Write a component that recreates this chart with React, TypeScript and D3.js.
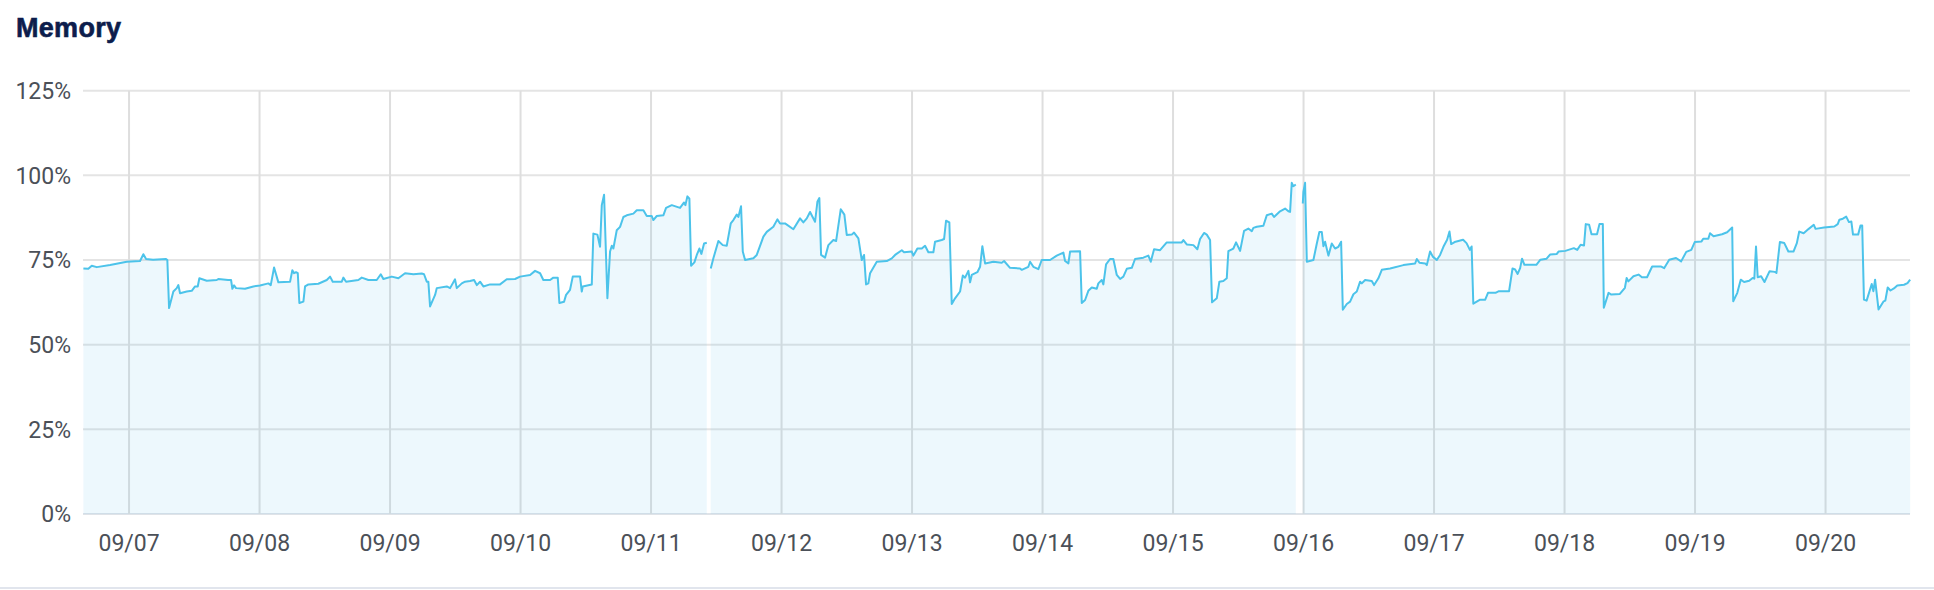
import { useEffect, useRef } from "react";
import * as d3 from "d3";

// hours since 09/07 00:00, memory usage in percent (null = no data)
const hours: number[] = [
  -8.4, -7.49, -6.86, -5.94, -3.49, -0.42, 2.02, 2.63, 3.13, 4.41, 6.8, 7.04, 7.36, 8.15, 8.77, 9.07, 9.38, 10.61,
  11.53, 12.14, 12.63, 12.93, 14.29, 16.13, 16.42, 18.21, 18.76, 19.0, 19.31, 19.68, 21.33, 22.86, 24.09, 25.62,
  26.06, 26.67, 27.46, 29.61, 30.03, 30.35, 30.71, 31.03, 31.32, 32.06, 32.37, 32.98, 34.81, 36.36, 36.97, 37.46,
  39.12, 39.41, 39.91, 42.17, 42.8, 44.01, 45.55, 46.29, 46.77, 48.31, 49.53, 50.76, 52.29, 53.83, 54.25, 54.75,
  55.04, 55.36, 56.28, 56.59, 58.43, 59.04, 59.95, 60.27, 61.19, 61.79, 62.71, 63.45, 63.95, 64.55, 65.16, 66.39,
  68.23, 69.46, 70.99, 71.91, 73.75, 74.67, 75.59, 76.19, 77.43, 78.03, 78.84, 79.14,
  80.0, 80.37, 81.1, 81.6, 82.94, 83.26, 83.44, 85.1, 85.39, 86.13, 86.62, 86.94, 87.36, 87.97, 88.46, 88.78,
  89.07, 89.69, 90.3, 90.91, 91.53, 92.75, 93.37, 94.59, 95.21, 96.13, 96.42, 97.05, 98.26, 98.76, 99.81, 101.33,
  102.07, 102.31, 102.68, 103.05, 103.36, 103.97, 104.41, 104.89, 105.25, 105.75, 106.25, 106.6,
  106.98, 107.46, 108.38, 109.19, 109.92, 110.66, 111.14, 111.76, 112.06, 112.55, 112.87, 113.29, 114.82, 115.44,
  116.66, 117.28, 118.49, 119.23, 119.72, 120.64, 122.17, 123.4, 124.01, 124.64, 125.24, 126.16, 126.59, 126.95,
  127.27, 128.0, 128.61, 129.53, 130.03, 130.89, 131.55, 131.99, 132.91, 133.33, 134.13, 134.75, 135.17, 135.54,
  135.96, 136.28, 137.51, 139.35, 140.27, 140.88, 142.11, 142.53, 143.95, 144.24, 144.98, 145.79, 146.39, 147.0,
  147.92, 148.23, 149.46, 149.89, 150.25, 150.86, 151.3,
  151.91, 152.83, 153.33, 153.75, 154.36, 154.67, 154.98, 156.01, 156.51, 156.93, 157.43, 158.95, 160.5, 160.92,
  162.02, 163.86, 164.18, 165.39, 165.7, 166.31, 167.23, 167.85, 169.38, 170.61, 171.83, 172.14, 172.75, 173.06,
  174.9, 175.21, 175.82, 176.42, 177.05, 177.97, 178.26, 178.89, 179.18, 179.68, 180.42, 181.02, 181.65, 182.26,
  182.86, 183.49, 184.41, 185.01, 186.54, 187.46, 187.9, 188.51, 189.61, 190.84, 191.76, 193.6, 193.9, 194.52,
  195.74, 196.47, 196.97, 197.7, 198.2, 198.81, 199.17, 200.04, 200.52, 201.25, 201.88, 202.17, 203.09, 203.59,
  204.33, 205.06, 205.85, 206.48, 206.77, 207.4, 208.61, 209.23, 210.15, 210.57, 211.68, 212.6, 213.21, 213.52,
  213.83, 214.13, 214.57, 215.2,
  215.86, 215.97, 216.28, 216.6, 217.81, 218.44, 218.91, 219.35, 219.65, 219.96, 220.57, 221.19, 221.8, 222.41,
  222.91, 223.22, 223.95, 224.56, 225.17, 225.79, 226.4, 226.71, 227.32, 228.55, 228.97, 229.76, 230.39, 231.92,
  234.36, 236.52, 236.83, 237.31, 238.36, 238.67, 239.27, 239.77, 240.5, 241.11, 241.72, 242.4, 242.84,
  243.15, 243.78, 245.34, 245.97, 246.59, 246.91, 247.22, 248.47, 249.41, 249.92, 251.3, 251.93, 253.8, 254.43,
  254.91, 255.37, 255.83, 256.18, 256.62, 258.81, 259.56, 260.7, 261.33, 262.58, 262.89, 264.14, 265.71, 266.33,
  266.96, 267.58, 267.9, 268.52, 268.96, 269.97, 270.42, 271.04, 271.22, 272.09, 272.6, 274.17, 275.1, 275.42,
  275.73, 276.67, 277.61, 278.23, 279.17, 280.11, 281.69, 282.31, 283.25, 284.5, 285.44, 286.38, 287.31, 287.94,
  289.19, 289.5, 290.44, 290.75, 291.4, 292.96, 293.9, 294.83, 295.02, 295.77, 296.4, 297.02, 297.96, 298.59,
  298.9, 299.21, 299.52, 300.15, 300.77, 301.71, 302.66, 302.97, 303.6, 304.41, 305.16, 306.1, 306.72, 307.16,
  307.97, 308.91, 309.84, 310.16, 311.72, 313.61, 314.24, 314.55, 315.18, 315.8, 316.3, 316.74, 317.05, 317.99,
  318.43, 318.74, 319.06, 319.55, 320.49, 320.8, 321.11, 321.74, 322.68, 322.99, 323.43, 323.94, 324.57, 325.19,
  326.44, 327.07, 327.56,
];

const memory: (number | null)[] = [
  72.5, 72.4, 73.3, 72.9, 73.5, 74.5, 74.7, 76.7, 75.3, 75.1, 75.3, 75.0, 60.8, 65.7, 66.7, 67.6, 65.2, 65.7,
  65.9, 67.2, 67.2, 69.6, 68.9, 69.1, 69.4, 69.1, 69.1, 66.5, 67.5, 66.7, 66.5, 67.2, 67.5, 68.1,
  67.6, 72.8, 68.4, 68.6, 72.0, 71.1, 71.4, 71.1, 62.3, 62.7, 67.2, 67.8, 68.0, 69.1, 70.1, 68.6,
  68.6, 69.8, 68.6, 69.1, 69.8, 69.1, 69.1, 70.8, 69.4, 70.1, 69.6, 71.1, 70.8, 71.0, 70.8, 68.6,
  68.6, 61.3, 64.7, 66.7, 67.2, 66.7, 69.3, 66.7, 68.1, 68.6, 68.8, 69.1, 67.6, 68.6, 67.2, 67.8,
  67.8, 69.3, 69.4, 70.1, 70.6, 71.8, 71.1, 69.1, 69.1, 69.8, 69.8, 62.3,
  62.7, 64.7, 66.2, 70.1, 70.1, 65.7, 67.2, 67.8, 82.8, 82.5, 78.9, 91.2, 94.3, 63.7, 77.5, 79.2,
  78.4, 83.8, 84.8, 87.7, 88.2, 88.7, 89.7, 89.7, 88.0, 88.0, 86.8, 88.0, 88.2, 90.4, 91.2, 90.4,
  92.0, 91.2, 93.8, 93.1, 73.3, 74.3, 76.5, 78.4, 76.8, 79.9, 80.1, null,
  72.5, 75.5, 80.6, 79.4, 79.2, 85.8, 86.8, 88.4, 87.7, 90.9, 77.5, 75.0, 75.5, 76.5,
  81.9, 83.3, 84.8, 87.0, 85.8, 85.8, 84.1, 87.3, 86.1, 87.3, 89.2, 86.3, 92.2, 93.3,
  76.5, 75.7, 79.4, 80.9, 80.6, 90.0, 88.4, 82.4, 82.5, 83.1, 81.4, 75.0, 76.5, 67.8,
  68.1, 71.1, 74.5, 74.7, 75.5, 76.5, 77.9, 77.3, 77.5, 76.3, 78.4, 78.4, 79.2, 77.3,
  77.3, 80.4, 80.9, 81.2, 86.6, 86.1, 62.0,
  63.7, 65.7, 70.4, 69.8, 71.8, 68.4, 70.6, 71.4, 73.0, 79.1, 74.0, 74.5, 74.2, 74.7,
  72.7, 72.5, 72.1, 73.0, 74.5, 73.0, 72.3, 75.0, 75.0, 76.3, 77.2, 74.7, 74.0, 77.5,
  77.6, 62.3, 63.2, 65.9, 66.9, 66.5, 68.1, 69.1, 67.8, 73.7, 75.3, 75.3, 70.6, 69.4,
  70.1, 72.4, 72.7, 75.3, 75.7, 76.3, 74.5, 78.2, 77.9, 80.2, 80.2, 80.2, 80.9, 79.6,
  79.4, 78.2, 81.2, 83.0, 82.5, 80.9, 62.5, 63.7, 68.6, 68.8, 69.6, 77.6, 78.4, 80.2,
  77.7, 83.6, 84.3, 83.5, 84.5, 84.8, 85.1, 88.2, 88.7, 87.7, 89.4, 90.2, 89.4, 89.2,
  97.8, 96.8, 97.3, null,
  91.7, 95.1, 97.8, 74.5, 75.0, 79.9, 83.3, 83.3, 79.1, 80.4, 76.3, 79.9, 78.4, 78.9,
  80.4, 60.3, 62.0, 62.7, 64.9, 65.7, 68.6, 68.1, 69.1, 68.8, 67.6, 69.6, 72.1, 72.5,
  73.5, 74.0, 75.3, 74.2, 74.0, 73.5, 77.5, 76.0, 75.0, 76.5, 78.9, 81.0, 83.4,
  79.7, 80.3, 81.0, 80.0, 78.0, 79.0, 62.1, 63.3, 63.3, 65.3, 65.3, 65.8, 65.8, 72.5,
  72.2, 70.9, 72.6, 75.4, 73.6, 73.6, 75.1, 75.4, 76.6, 76.8, 77.5, 77.7, 78.5, 78.0,
  79.5, 79.3, 85.6, 85.4, 82.6, 82.6, 85.6, 85.6, 60.9, 65.3, 64.8, 65.0, 66.8, 69.7,
  68.7, 70.2, 70.7, 69.9, 69.9, 73.1, 73.1, 72.6, 75.1, 75.6, 74.6, 77.4, 78.0, 80.3,
  80.5, 81.3, 81.3, 82.9, 82.0, 82.6, 83.2, 84.6, 62.8, 65.3, 69.2, 68.5, 68.9, 69.7,
  69.5, 79.0, 69.9, 70.2, 68.5, 71.7, 71.5, 71.2, 80.3, 80.0, 77.5, 77.5, 80.0, 83.4,
  82.9, 84.2, 85.4, 84.2, 84.6, 84.9, 85.6, 86.9, 87.2, 87.8, 86.2, 86.4, 82.5, 82.5,
  85.2, 85.2, 63.3, 63.0, 67.9, 65.8, 69.2, 60.4, 62.8, 63.0, 66.9, 66.0, 66.6, 67.5,
  67.7, 68.2, 69.2,
];

const yTicks = [0, 25, 50, 75, 100, 125];
const title = "Memory";
const startDay = Date.UTC(2023, 8, 7);
const rangeHours = [-8.47, 327.53];

const W = 1934;
const H = 590;
const margin = { top: 90.7, right: 24, bottom: 76, left: 83 };

export default function App() {
  const ref = useRef<SVGSVGElement>(null);

  useEffect(() => {
    if (!ref.current) return;
    const svg = d3.select(ref.current);
    svg.selectAll("*").remove();

    const toDate = (h: number) => new Date(startDay + h * 3600 * 1000);
    const data = hours.map((h, i) => ({ t: toDate(h), v: memory[i] }));

    const x = d3.scaleUtc()
      .domain([toDate(rangeHours[0]), toDate(rangeHours[1])])
      .range([margin.left, W - margin.right]);
    const y = d3.scaleLinear()
      .domain([0, 125])
      .range([H - margin.bottom, margin.top]);

    const font = "Roboto, 'Helvetica Neue', Arial, sans-serif";

    // title
    svg.append("text")
      .attr("x", 16)
      .attr("y", 36.5)
      .attr("font-family", "'Liberation Sans', Arial, sans-serif")
      .attr("font-weight", 700)
      .attr("font-size", 27)
      .attr("letter-spacing", 0.3)
      .attr("fill", "#0d1d4c")
      .attr("stroke", "#0d1d4c")
      .attr("stroke-width", 0.6)
      .text(title);

    // horizontal grid
    svg.append("g")
      .selectAll("line")
      .data(yTicks)
      .join("line")
      .attr("x1", margin.left)
      .attr("x2", W - margin.right)
      .attr("y1", d => y(d))
      .attr("y2", d => y(d))
      .attr("stroke", d => (d === 0 ? "#dfe3e8" : "#e4e4e4"))
      .attr("stroke-width", 2);

    // vertical grid
    const days = x.ticks(d3.utcDay.every(1)!);
    svg.append("g")
      .selectAll("line")
      .data(days)
      .join("line")
      .attr("x1", d => x(d))
      .attr("x2", d => x(d))
      .attr("y1", y(125))
      .attr("y2", y(0))
      .attr("stroke", "#dedede")
      .attr("stroke-width", 2);

    // area + line
    const area = d3.area<{ t: Date; v: number | null }>()
      .defined(d => d.v !== null)
      .x(d => x(d.t))
      .y0(y(0))
      .y1(d => y(d.v as number));
    const line = d3.line<{ t: Date; v: number | null }>()
      .defined(d => d.v !== null)
      .x(d => x(d.t))
      .y(d => y(d.v as number));

    svg.append("path")
      .datum(data)
      .attr("d", area)
      .attr("fill", "rgba(74, 190, 232, 0.1)");
    svg.append("path")
      .datum(data)
      .attr("d", line)
      .attr("fill", "none")
      .attr("stroke", "#4cc3ea")
      .attr("stroke-width", 2)
      .attr("stroke-linejoin", "round");

    // y labels
    svg.append("g")
      .selectAll("text")
      .data(yTicks)
      .join("text")
      .attr("x", 71)
      .attr("y", d => y(d))
      .attr("dy", "0.36em")
      .attr("text-anchor", "end")
      .attr("font-family", font)
      .attr("font-size", 23)
      .attr("fill", "#4b5058")
      .text(d => `${d}%`);

    // x labels
    const fmt = d3.utcFormat("%m/%d");
    svg.append("g")
      .selectAll("text")
      .data(days)
      .join("text")
      .attr("x", d => x(d))
      .attr("y", 551)
      .attr("text-anchor", "middle")
      .attr("font-family", font)
      .attr("font-size", 23)
      .attr("fill", "#4b5058")
      .text(d => fmt(d));

    // bottom separator
    svg.append("line")
      .attr("x1", 0)
      .attr("x2", W)
      .attr("y1", H - 2)
      .attr("y2", H - 2)
      .attr("stroke", "#e1e5ed")
      .attr("stroke-width", 2);
  }, []);

  return (
    <svg
      ref={ref}
      width={W}
      height={H}
      style={{ position: "absolute", left: 0, top: 0, background: "#fff" }}
    />
  );
}
